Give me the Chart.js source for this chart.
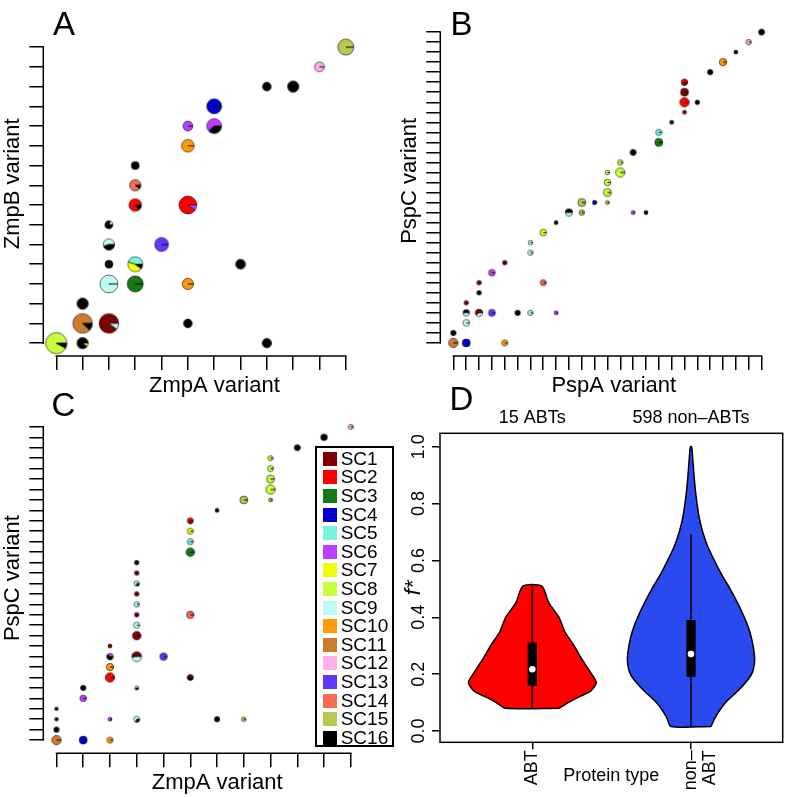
<!DOCTYPE html>
<html><head><meta charset="utf-8">
<script src="https://cdn.jsdelivr.net/npm/chart.js@4.4.1/dist/chart.umd.min.js"></script>
<style>
html,body{margin:0;padding:0;background:#fff;}
body{width:793px;height:797px;position:relative;overflow:hidden;font-family:"Liberation Sans",Arial,sans-serif;}
canvas{position:absolute;}
.lab{position:absolute;font-size:33px;line-height:1;color:#000;}
#legend{position:absolute;left:315px;top:446px;width:75px;height:297px;border:2px solid #000;background:#fff;}
.row{position:absolute;left:23.7px;font-size:19px;line-height:18.6px;white-space:nowrap;color:#000;}
.sw{position:absolute;left:5.7px;width:14px;height:14px;}
</style></head><body>
<canvas id="cA" width="397" height="400" style="left:0;top:0"></canvas>
<canvas id="cB" width="396" height="400" style="left:397px;top:0"></canvas>
<canvas id="cC" width="397" height="400" style="left:0;top:397px"></canvas>
<canvas id="cD" width="396" height="400" style="left:397px;top:397px"></canvas>
<div class="lab" style="left:53px;top:6.5px">A</div>
<div class="lab" style="left:450.5px;top:6.5px">B</div>
<div class="lab" style="left:51.5px;top:388px">C</div>
<div class="lab" style="left:449.5px;top:382px">D</div>
<div id="legend"></div>
<script>
// ---------- data ----------
const scNames = ['SC1','SC2','SC3','SC4','SC5','SC6','SC7','SC8','SC9','SC10','SC11','SC12','SC13','SC14','SC15','SC16'];
const scColors = ['#800000','#ff0000','#187818','#0000cc','#76f7dc','#bf3eff','#eeff00','#c8ff3c','#bbfcf5','#ff9a0a','#cd7c2e','#ffb0ea','#6137ff','#fa6a55','#bcc752','#000000'];

const zmpTicks = [0,1,2,3,4,5,6,7,8,9,10,11];
const zmpBTicks = [0,1,2,3,4,5,6,7,8,9,10,11,12,13,14,15];
const pspATicks = [0,1,2,3,4,5,6,7,8,9,10,11,12,13,14,15,16,17,18,19,20,21,22,23,24];
const pspCTicksB = [0,1,2,3,4,5,6,7,8,9,10,11,12,13,14,15,16,17,18,19,20,21,22,23,24,25,26,27,28,29,30,31];
const pspCTicksC = [0,1,2,3,4,5,6,7,8,9,10,11,12,13,14,15,16,17,18,19,20,21,22,23,24,25,26,27,28,29,30];

// Panel A: ZmpA vs ZmpB
const aX = [0,1,1,2,1,2,3,5,2,3,7,2,4,2,3,5,3,3,5,5,6,6,8,9,10,11,5,8];
const aY = [0,0,1,1,2,3,3,3,4,4,4,5,5,6,7,7,8,9,10,11,11,12,13,13,14,15,1,0];
const aN = [7,2,6,6,2,5,4,2,1,3.5,1.5,2,3,1,2.5,5,2,1,2.5,1.5,3.5,3.5,1.2,2,1.5,4,1.2,1.4];
const aPie = [
 [[8,.92],[16,.08]],[[16,.9],[8,.1]],[[11,.88],[16,.12]],[[1,.9],[9,.1]],[[16,1]],
 [[9,1]],[[3,1]],[[10,1]],[[16,1]],[[5,.45],[7,.45],[16,.1]],
 [[16,1]],[[9,.55],[16,.45]],[[13,1]],[[9,.2],[16,.8]],[[2,.85],[16,.15]],
 [[2,.9],[6,.1]],[[14,.9],[16,.1]],[[16,1]],[[10,1]],[[6,1]],
 [[6,.62],[16,.38]],[[4,1]],[[16,1]],[[16,1]],[[12,1]],[[15,1]],[[16,1]],[[16,1]]
];

// Panel B: PspA vs PspC
const bX = [0,1,4,0,1,1,2,3,5,6,8,1,2,2,3,4,7,6,6,7,8,9,10,10,11,12,12,12,12,13,13,14,14,15,16,16,17,18,18,18,18,19,20,21,22,23,24];
const bY = [0,0,0,1,2,3,3,3,3,3,3,4,5,6,7,8,6,9,10,11,12,13,13,14,14,14,15,16,17,17,18,19,13,13,20,21,22,23,24,25,26,24,27,28,29,30,31];
const bN = [5.5,4,2.3,1.8,2.7,2.7,3.4,3,1.8,1.8,1,1.2,1.3,1.3,2.7,1.3,2.3,1.8,1.3,2.7,1,3.4,1.8,4,1.2,1,4,2.7,1.3,5.5,1.8,2.3,1,1,4,2.3,1,1,5.5,4,2.7,1.3,1.8,3.4,1,1.8,2.3];
const bPie = [
 [[11,1]],[[4,1]],[[10,1]],[[16,1]],[[9,1]],[[16,.5],[9,.5]],[[1,.6],[9,.4]],[[13,1]],[[16,1]],[[9,1]],
 [[6,1]],[[1,1]],[[16,1]],[[1,1]],[[6,1]],[[1,1]],[[14,1]],[[9,1]],[[9,1]],[[7,1]],
 [[16,1]],[[16,.5],[9,.5]],[[15,1]],[[15,1]],[[4,1]],[[15,1]],[[8,1]],[[8,1]],[[8,1]],[[8,1]],
 [[8,1]],[[16,1]],[[6,1]],[[16,1]],[[3,1]],[[5,1]],[[16,1]],[[1,.5],[2,.5]],[[2,1]],[[1,1]],
 [[2,.6],[1,.4]],[[16,1]],[[16,1]],[[10,1]],[[16,1]],[[12,1]],[[16,1]]
];

// Panel C: ZmpA vs PspC
const cX = [0,1,2,0,0,0,1,1,2,2,2,2,2,3,3,3,3,3,3,3,3,3,3,3,4,5,5,5,5,5,5,6,6,7,7,8,8,8,8,8,9,10,11];
const cY = [0,0,0,1,2,3,4,5,6,7,8,9,2,2,5,8,10,11,12,13,14,15,16,17,8,6,12,18,19,20,21,2,22,2,23,23,24,25,26,27,28,29,30];
const cN = [5.5,4,2.3,1.8,0.8,0.8,2.7,1.8,5.5,3.4,2.7,1,1,2.3,1,6,4.6,2.3,1.3,1.8,1.3,1.8,1.3,1.3,3.4,2.3,3.4,4.6,2.3,2.3,2.3,1.8,1,1.3,4,1,5.5,4,2.3,1.6,2.3,2.7,1.6];
const cPie = [
 [[11,1]],[[4,1]],[[10,1]],[[16,1]],[[16,1]],[[16,1]],[[6,1]],[[16,1]],[[2,1]],[[10,1]],
 [[6,.4],[16,.6]],[[1,.5],[2,.5]],[[6,1]],[[9,.7],[16,.3]],[[9,.6],[16,.4]],[[1,.42],[16,.1],[9,.48]],[[1,1]],[[9,1]],[[1,1]],[[9,1]],
 [[1,1]],[[9,.75],[16,.25]],[[1,1]],[[16,1]],[[13,1]],[[1,.5],[16,.5]],[[14,1]],[[3,1]],[[5,1]],[[7,1]],
 [[2,.7],[1,.3]],[[16,1]],[[16,1]],[[15,1]],[[15,1]],[[15,1]],[[8,1]],[[8,1]],[[8,1]],[[8,1]],
 [[16,1]],[[16,1]],[[12,1]]
];

// Panel D: violin plot of f*
const groupPos = [1, 2];
const groupLabels = ['ABT', ['non\u2013','ABT']];
const groupCounts = ['15 ABTs', '598 non\u2013ABTs'];
const fTicks = [0, 0.2, 0.4, 0.6, 0.8, 1.0];
const abtLevels = [0.08,0.10,0.12,0.14,0.17,0.20,0.25,0.30,0.35,0.40,0.45,0.51];
const abtHalfWidth = [0.168,0.227,0.294,0.367,0.403,0.374,0.315,0.263,0.204,0.168,0.105,0.058];
const nonLevels = [0.016,0.05,0.10,0.15,0.20,0.25,0.30,0.35,0.40,0.45,0.50,0.55,0.60,0.65,0.70,0.75,0.80,0.85,0.90,0.95,1.00];
const nonHalfWidth = [0.126,0.155,0.218,0.312,0.382,0.401,0.391,0.370,0.336,0.294,0.246,0.193,0.147,0.105,0.074,0.052,0.038,0.027,0.019,0.012,0.004];
// [min, q1, median, q3, max]
const abtStats = [0.08, 0.158, 0.217, 0.311, 0.511];
const nonStats = [0.016, 0.191, 0.271, 0.39, 0.692];

// ---------- helpers ----------
Chart.defaults.font.family = '"Liberation Sans", Arial, sans-serif';
Chart.defaults.color = '#000';

const rAxisLines = {
  id: 'rAxisLines',
  afterDraw(chart, args, opts) {
    const ctx = chart.ctx;
    ctx.save();
    ctx.strokeStyle = '#000';
    ctx.lineWidth = 1.5;
    (opts.scales || []).forEach(id => {
      const s = chart.scales[id];
      const t = s.ticks;
      if (!t.length) return;
      const p0 = s.getPixelForValue(t[0].value), p1 = s.getPixelForValue(t[t.length - 1].value);
      ctx.beginPath();
      if (s.isHorizontal()) { ctx.moveTo(p0 - 0.75, s.top); ctx.lineTo(p1 + 0.75, s.top); }
      else { ctx.moveTo(s.right, p0 + 0.75); ctx.lineTo(s.right, p1 - 0.75); }
      ctx.stroke();
    });
    if (opts.box) {
      const a = chart.chartArea;
      ctx.strokeRect(a.left, a.top, a.right - a.left, a.bottom - a.top);
    }
    ctx.restore();
  }
};

function pieGlyph(slices, r) {
  const s = Math.ceil(2 * r + 4);
  const c = document.createElement('canvas');
  c.width = s; c.height = s;
  const g = c.getContext('2d');
  const cx = s / 2, cy = s / 2;
  let a = 0;
  g.lineWidth = 0.8;
  g.strokeStyle = 'rgba(0,0,0,0.7)';
  slices.forEach(([sc, f]) => {
    const b = a - f * 2 * Math.PI;
    g.beginPath();
    g.moveTo(cx, cy);
    g.arc(cx, cy, r, a, b, true);
    g.closePath();
    g.fillStyle = scColors[sc - 1];
    g.fill();
    g.stroke();
    a = b;
  });
  return c;
}

function tickAxis(ticks, min, max, extra) {
  return Object.assign({
    type: 'linear', min, max,
    afterBuildTicks: s => { s.ticks = ticks.map(v => ({ value: v })); },
    grid: { drawOnChartArea: false, drawTicks: true, tickLength: 14, color: '#000', lineWidth: 1.5 },
    border: { display: false },
    ticks: { display: false }
  }, extra);
}

function piePanel(id, xs, ys, ns, pies, base, cfg) {
  const radii = ns.map(v => base * Math.sqrt(v));
  const glyphs = pies.map((p, i) => pieGlyph(p, radii[i]));
  return new Chart(document.getElementById(id), {
    type: 'scatter',
    data: { datasets: [{
      data: xs.map((x, i) => ({ x, y: ys[i] })),
      pointStyle: glyphs, pointRadius: radii, pointHoverRadius: radii, clip: false
    }] },
    options: {
      responsive: false, devicePixelRatio: 1, animation: false, events: [],
      layout: { padding: { top: cfg.padTop, left: 0, right: 0, bottom: 0 } },
      plugins: { legend: { display: false }, tooltip: { enabled: false }, rAxisLines: { scales: ['x', 'y'] } },
      scales: {
        x: tickAxis(cfg.xTicks, cfg.xMin, cfg.xMax, {
          afterFit: s => { s.height = cfg.xH; },
          title: { display: true, text: cfg.xTitle, font: { size: 22 }, padding: { top: 0, bottom: 0.8 } }
        }),
        y: tickAxis(cfg.yTicks, cfg.yMin, cfg.yMax, {
          afterFit: s => { s.width = 43.3; },
          title: { display: true, text: cfg.yTitle, font: { size: 22 }, padding: { top: 0, bottom: 0 } }
        })
      }
    },
    plugins: [rAxisLines]
  });
}

// Panel A
piePanel('cA', aX, aY, aN, aPie, 4, {
  padTop: 0, xH: 44, xTicks: zmpTicks, yTicks: zmpBTicks,
  xMin: -0.4925, xMax: 12.506, yMin: -0.652, yMax: 16.80,
  xTitle: 'ZmpA variant', yTitle: 'ZmpB variant'
});
// Panel B
piePanel('cB', bX, bY, bN, bPie, 2, {
  padTop: 0, xH: 44, xTicks: pspATicks, yTicks: pspCTicksB,
  xMin: -1.018, xMax: 26.01, yMin: -1.305, yMax: 33.63,
  xTitle: 'PspA variant', yTitle: 'PspC variant'
});
// Panel C
piePanel('cC', cX, cY, cN, cPie, 2, {
  padTop: 3, xH: 43.7, xTicks: zmpTicks, yTicks: pspCTicksC,
  xMin: -0.4925, xMax: 12.506, yMin: -1.263, yMax: 32.29,
  xTitle: 'ZmpA variant', yTitle: 'PspC variant'
});

// Panel D
function violinPolygon(c, levels, half) {
  const pts = [];
  for (let i = 0; i < levels.length; i++) pts.push({ x: c + half[i], y: levels[i] });
  for (let i = levels.length - 1; i >= 0; i--) pts.push({ x: c - half[i], y: levels[i] });
  pts.push({ x: c + half[0], y: levels[0] });
  return pts;
}
const stats = [abtStats, nonStats];
const violinColors = ['#ff0000', '#2a4af0'];
const dDatasets = [
  { data: groupPos.map((c, i) => ({ x: c, y: stats[i][2] })), pointRadius: 3.3, pointBackgroundColor: '#fff', pointBorderWidth: 0, order: 0 }
];
groupPos.forEach((c, i) => {
  dDatasets.push({ data: [{ x: c, y: stats[i][1] }, { x: c, y: stats[i][3] }], showLine: true, borderColor: '#000', borderWidth: 9.3, borderCapStyle: 'butt', pointRadius: 0, order: 1 });
  dDatasets.push({ data: [{ x: c, y: stats[i][0] }, { x: c, y: stats[i][4] }], showLine: true, borderColor: '#000', borderWidth: 1.5, pointRadius: 0, order: 2 });
});
dDatasets.push({ data: violinPolygon(1, abtLevels, abtHalfWidth), showLine: true, fill: 'shape', backgroundColor: violinColors[0], borderColor: '#000', borderWidth: 1.5, pointRadius: 0, tension: 0.25, order: 3 });
dDatasets.push({ data: violinPolygon(2, nonLevels, nonHalfWidth), showLine: true, fill: 'shape', backgroundColor: violinColors[1], borderColor: '#000', borderWidth: 1.5, pointRadius: 0, tension: 0.25, order: 3 });

new Chart(document.getElementById('cD'), {
  type: 'scatter',
  data: { datasets: dDatasets },
  options: {
    responsive: false, devicePixelRatio: 1, animation: false, events: [],
    layout: { padding: { top: 0, left: 0, right: 10.3, bottom: 0 } },
    plugins: { legend: { display: false }, tooltip: { enabled: false }, rAxisLines: { scales: [], box: true } },
    scales: {
      x: {
        type: 'linear', min: 0.418, max: 2.578,
        afterBuildTicks: s => { s.ticks = groupPos.map(v => ({ value: v })); },
        afterFit: s => { s.height = 54.7; },
        grid: { drawOnChartArea: false, drawTicks: true, tickLength: 7, color: '#000', lineWidth: 1.5 },
        border: { display: false },
        ticks: { autoSkip: false, minRotation: 90, maxRotation: 90, padding: 1, font: { size: 18, lineHeight: 1.05 },
                 callback: v => groupLabels[groupPos.indexOf(v)] },
        title: { display: true, text: 'Protein type', font: { size: 18 }, padding: { top: 0, bottom: 9.7 } }
      },
      x2: {
        type: 'linear', position: 'top', min: 0.418, max: 2.578,
        afterBuildTicks: s => { s.ticks = groupPos.map(v => ({ value: v })); },
        afterFit: s => { s.height = 36.3; },
        grid: { display: false, drawTicks: false },
        border: { display: false },
        ticks: { autoSkip: false, maxRotation: 0, padding: 4.5, font: { size: 18 },
                 callback: v => groupCounts[groupPos.indexOf(v)] }
      },
      y: {
        type: 'linear', min: -0.0397, max: 1.047,
        afterBuildTicks: s => { s.ticks = fTicks.map(v => ({ value: v })); },
        afterFit: s => { s.width = 43; },
        grid: { drawOnChartArea: false, drawTicks: true, tickLength: 8, color: '#000', lineWidth: 1.5 },
        border: { display: false },
        ticks: { minRotation: 90, maxRotation: 90, crossAlign: 'center', padding: 0.5, font: { size: 18 },
                 callback: v => v.toFixed(1) },
        title: { display: true, text: 'f*', font: { size: 22, style: 'italic' }, padding: { top: 4, bottom: 0 } }
      }
    }
  },
  plugins: [rAxisLines]
});

// Legend (SC colours)
const leg = document.getElementById('legend');
scNames.forEach((n, i) => {
  const sw = document.createElement('div');
  sw.className = 'sw';
  sw.style.top = (3.7 + i * 18.6) + 'px';
  sw.style.background = scColors[i];
  leg.appendChild(sw);
  const t = document.createElement('div');
  t.className = 'row';
  t.style.top = (1.8 + i * 18.6) + 'px';
  t.textContent = n;
  leg.appendChild(t);
});
</script>
</body></html>
